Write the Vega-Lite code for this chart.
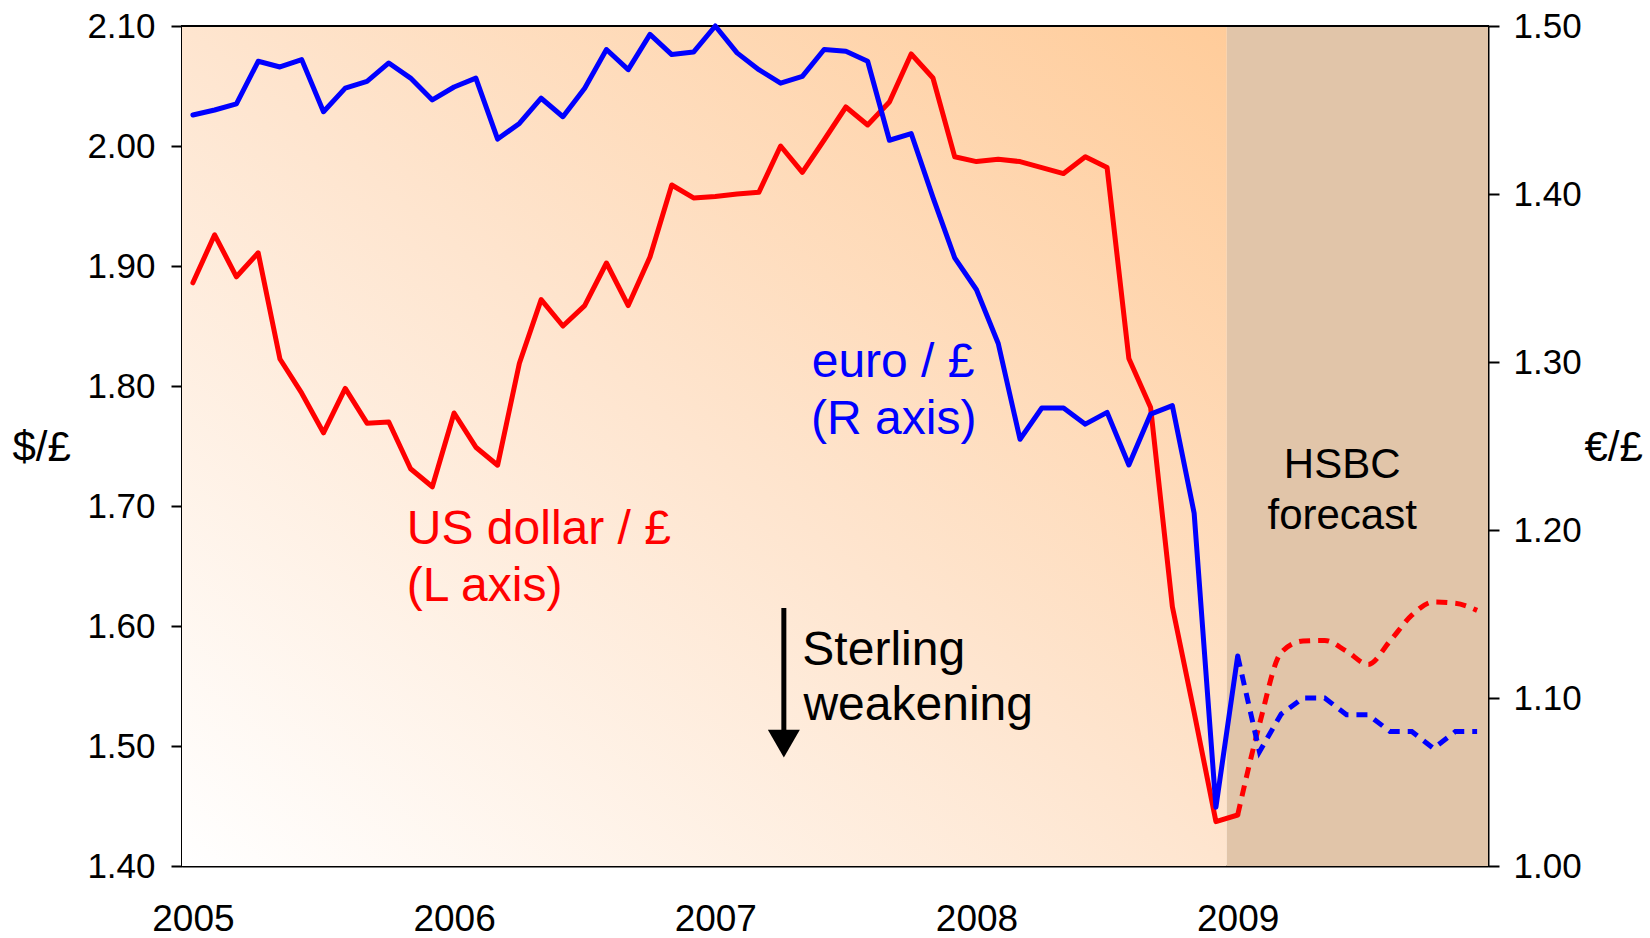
{
  "$schema": "https://vega.github.io/schema/vega-lite/v6.json",
  "width": 1306,
  "height": 840,
  "autosize": {"type": "none"},
  "padding": {"left": 182, "top": 26, "right": 162, "bottom": 72},
  "background": "white",
  "config": {
    "view": {"stroke": "black", "strokeWidth": 2},
    "axis": {"zindex": 1, "grid": false, "domainColor": "black", "domainWidth": 2, "tickColor": "black", "tickWidth": 2, "labelColor": "black", "titleColor": "black", "labelFont": "Liberation Sans", "titleFont": "Liberation Sans", "labelFlush": false, "labelOverlap": false, "labelBound": false},
    "text": {"font": "Liberation Sans"}
  },
  "datasets": {
    "actual": [
      {"t": 0, "usd": 1.886, "eur": 1.447},
      {"t": 1, "usd": 1.926, "eur": 1.450},
      {"t": 2, "usd": 1.891, "eur": 1.4536},
      {"t": 3, "usd": 1.911, "eur": 1.479},
      {"t": 4, "usd": 1.8225, "eur": 1.4756},
      {"t": 5, "usd": 1.794, "eur": 1.480},
      {"t": 6, "usd": 1.761, "eur": 1.449},
      {"t": 7, "usd": 1.798, "eur": 1.463},
      {"t": 8, "usd": 1.769, "eur": 1.467},
      {"t": 9, "usd": 1.770, "eur": 1.478},
      {"t": 10, "usd": 1.731, "eur": 1.469},
      {"t": 11, "usd": 1.716, "eur": 1.456},
      {"t": 12, "usd": 1.7775, "eur": 1.4637},
      {"t": 13, "usd": 1.749, "eur": 1.469},
      {"t": 14, "usd": 1.734, "eur": 1.4327},
      {"t": 15, "usd": 1.819, "eur": 1.442},
      {"t": 16, "usd": 1.872, "eur": 1.457},
      {"t": 17, "usd": 1.850, "eur": 1.446},
      {"t": 18, "usd": 1.867, "eur": 1.463},
      {"t": 19, "usd": 1.9025, "eur": 1.486},
      {"t": 20, "usd": 1.867, "eur": 1.474},
      {"t": 21, "usd": 1.9075, "eur": 1.495},
      {"t": 22, "usd": 1.9675, "eur": 1.483},
      {"t": 23, "usd": 1.9567, "eur": 1.4845},
      {"t": 24, "usd": 1.958, "eur": 1.500},
      {"t": 25, "usd": 1.960, "eur": 1.484},
      {"t": 26, "usd": 1.9614, "eur": 1.474},
      {"t": 27, "usd": 2.000, "eur": 1.466},
      {"t": 28, "usd": 1.978, "eur": 1.470},
      {"t": 29, "usd": 2.005, "eur": 1.486},
      {"t": 30, "usd": 2.0325, "eur": 1.485},
      {"t": 31, "usd": 2.0175, "eur": 1.479},
      {"t": 32, "usd": 2.0367, "eur": 1.432},
      {"t": 33, "usd": 2.0767, "eur": 1.436},
      {"t": 34, "usd": 2.0567, "eur": 1.398},
      {"t": 35, "usd": 1.991, "eur": 1.362},
      {"t": 36, "usd": 1.987, "eur": 1.343},
      {"t": 37, "usd": 1.989, "eur": 1.311},
      {"t": 38, "usd": 1.987, "eur": 1.254},
      {"t": 39, "usd": 1.982, "eur": 1.2726},
      {"t": 40, "usd": 1.977, "eur": 1.2726},
      {"t": 41, "usd": 1.991, "eur": 1.263},
      {"t": 42, "usd": 1.982, "eur": 1.270},
      {"t": 43, "usd": 1.823, "eur": 1.2387},
      {"t": 44, "usd": 1.782, "eur": 1.269},
      {"t": 45, "usd": 1.616, "eur": 1.274},
      {"t": 46, "usd": 1.528, "eur": 1.210},
      {"t": 47, "usd": 1.437, "eur": 1.035},
      {"t": 48, "usd": 1.4425, "eur": 1.125}
    ],
    "forecast": [
      {"t": 48, "usd": 1.4425, "eur": 1.125},
      {"t": 49, "usd": 1.518, "eur": 1.068},
      {"t": 50, "usd": 1.578, "eur": 1.0905},
      {"t": 51, "usd": 1.5875, "eur": 1.10},
      {"t": 52, "usd": 1.588, "eur": 1.10},
      {"t": 53, "usd": 1.579, "eur": 1.09},
      {"t": 54, "usd": 1.568, "eur": 1.09},
      {"t": 55, "usd": 1.5875, "eur": 1.08},
      {"t": 56, "usd": 1.609, "eur": 1.08},
      {"t": 57, "usd": 1.620, "eur": 1.07},
      {"t": 58, "usd": 1.619, "eur": 1.08},
      {"t": 59, "usd": 1.613, "eur": 1.08}
    ],
    "redText": [
      {"label": "US dollar / £", "t": 9.83, "v": 1.6683},
      {"label": "(L axis)", "t": 9.83, "v": 1.6208}
    ],
    "blueText": [
      {"label": "euro / £", "t": 28.43, "v": 1.8075},
      {"label": "(R axis)", "t": 28.4, "v": 1.76}
    ],
    "sterlingText": [
      {"label": "Sterling", "t": 28.0, "v": 1.5675},
      {"label": "weakening", "t": 28.05, "v": 1.5217}
    ],
    "hsbcText": [
      {"label": "HSBC", "t": 52.8, "v": 1.7233},
      {"label": "forecast", "t": 52.8, "v": 1.6808}
    ],
    "arrow": [
      {"t": 27.15, "v": 1.615, "v2": 1.509, "head": 1.502}
    ],
    "regions": [
      {"region": "history", "start": -0.5, "end": 47.5},
      {"region": "forecast", "start": 47.5, "end": 59.5}
    ]
  },
  "layer": [
    {
      "layer": [
        {
          "data": {"name": "regions"},
          "transform": [{"filter": "datum.region == 'history'"}],
          "mark": {"type": "rect", "opacity": 1, "fill": {"gradient": "linear", "x1": 0, "y1": 1, "x2": 1, "y2": 0, "stops": [{"offset": 0, "color": "#ffffff"}, {"offset": 0.5, "color": "#fee5cf"}, {"offset": 1, "color": "#ffcc9a"}]}},
          "encoding": {
            "x": {"field": "start", "type": "quantitative", "scale": {"domain": [-0.5, 59.5], "nice": false, "zero": false}},
            "x2": {"field": "end"}
          }
        },
        {
          "data": {"name": "regions"},
          "transform": [{"filter": "datum.region == 'forecast'"}],
          "mark": {"type": "rect", "opacity": 1, "fill": "#e1c5a9"},
          "encoding": {
            "x": {"field": "start", "type": "quantitative", "scale": {"domain": [-0.5, 59.5], "nice": false, "zero": false}},
            "x2": {"field": "end"}
          }
        },
        {
          "data": {"values": [{}]},
          "mark": {"type": "rule", "color": "black", "strokeWidth": 2},
          "encoding": {
            "y": {"datum": 2.1, "type": "quantitative", "scale": {"domain": [1.4, 2.1], "nice": false, "zero": false}}
          }
        },
        {
          "data": {"name": "actual"},
          "mark": {"type": "line", "color": "#ff0000", "strokeWidth": 5, "strokeJoin": "round", "strokeCap": "round"},
          "encoding": {
            "x": {"field": "t", "type": "quantitative", "scale": {"domain": [-0.5, 59.5], "nice": false, "zero": false},
              "axis": {"values": [0, 12, 24, 36, 48], "labelExpr": "'' + (2005 + datum.value / 12)", "ticks": false, "tickSize": 0, "labelPadding": 35, "labelFontSize": 37, "labelBaseline": "top", "labelAlign": "center", "title": null}},
            "y": {"field": "usd", "type": "quantitative", "scale": {"domain": [1.4, 2.1], "nice": false, "zero": false},
              "axis": {"orient": "left", "values": [1.4, 1.5, 1.6, 1.7, 1.8, 1.9, 2.0, 2.1], "format": ".2f", "tickSize": 11, "labelPadding": 16, "labelFontSize": 35, "title": "$/£", "titleAngle": 0, "titleFontSize": 42, "titleFontWeight": "normal", "titleAlign": "left", "titleBaseline": "middle", "titleX": -170, "titleY": 421}}
          }
        },
        {
          "data": {"name": "forecast"},
          "mark": {"type": "line", "color": "#ff0000", "strokeWidth": 5, "strokeDash": [11, 8], "strokeCap": "butt", "interpolate": "monotone"},
          "encoding": {
            "x": {"field": "t", "type": "quantitative", "scale": {"domain": [-0.5, 59.5], "nice": false, "zero": false}},
            "y": {"field": "usd", "type": "quantitative", "scale": {"domain": [1.4, 2.1], "nice": false, "zero": false}}
          }
        },
        {
          "data": {"name": "redText"},
          "mark": {"type": "text", "color": "#ff0000", "fontSize": 48, "align": "left", "baseline": "alphabetic"},
          "encoding": {
            "x": {"field": "t", "type": "quantitative", "scale": {"domain": [-0.5, 59.5], "nice": false, "zero": false}},
            "y": {"field": "v", "type": "quantitative", "scale": {"domain": [1.4, 2.1], "nice": false, "zero": false}},
            "text": {"field": "label"}
          }
        },
        {
          "data": {"name": "blueText"},
          "mark": {"type": "text", "color": "#0000ff", "fontSize": 48, "align": "left", "baseline": "alphabetic"},
          "encoding": {
            "x": {"field": "t", "type": "quantitative", "scale": {"domain": [-0.5, 59.5], "nice": false, "zero": false}},
            "y": {"field": "v", "type": "quantitative", "scale": {"domain": [1.4, 2.1], "nice": false, "zero": false}},
            "text": {"field": "label"}
          }
        },
        {
          "data": {"name": "sterlingText"},
          "mark": {"type": "text", "color": "black", "fontSize": 48, "align": "left", "baseline": "alphabetic"},
          "encoding": {
            "x": {"field": "t", "type": "quantitative", "scale": {"domain": [-0.5, 59.5], "nice": false, "zero": false}},
            "y": {"field": "v", "type": "quantitative", "scale": {"domain": [1.4, 2.1], "nice": false, "zero": false}},
            "text": {"field": "label"}
          }
        },
        {
          "data": {"name": "hsbcText"},
          "mark": {"type": "text", "color": "black", "fontSize": 42, "align": "center", "baseline": "alphabetic"},
          "encoding": {
            "x": {"field": "t", "type": "quantitative", "scale": {"domain": [-0.5, 59.5], "nice": false, "zero": false}},
            "y": {"field": "v", "type": "quantitative", "scale": {"domain": [1.4, 2.1], "nice": false, "zero": false}},
            "text": {"field": "label"}
          }
        },
        {
          "data": {"name": "arrow"},
          "mark": {"type": "rule", "color": "black", "strokeWidth": 5},
          "encoding": {
            "x": {"field": "t", "type": "quantitative", "scale": {"domain": [-0.5, 59.5], "nice": false, "zero": false}},
            "y": {"field": "v", "type": "quantitative", "scale": {"domain": [1.4, 2.1], "nice": false, "zero": false}},
            "y2": {"field": "v2"}
          }
        },
        {
          "data": {"name": "arrow"},
          "mark": {"type": "point", "shape": "triangle-down", "filled": true, "color": "black", "opacity": 1, "size": 1024, "strokeWidth": 0},
          "encoding": {
            "x": {"field": "t", "type": "quantitative", "scale": {"domain": [-0.5, 59.5], "nice": false, "zero": false}},
            "y": {"field": "head", "type": "quantitative", "scale": {"domain": [1.4, 2.1], "nice": false, "zero": false}}
          }
        }
      ]
    },
    {
      "layer": [
        {
          "data": {"name": "actual"},
          "mark": {"type": "line", "color": "#0000ff", "strokeWidth": 5, "strokeJoin": "round", "strokeCap": "round"},
          "encoding": {
            "x": {"field": "t", "type": "quantitative", "scale": {"domain": [-0.5, 59.5], "nice": false, "zero": false}},
            "y": {"field": "eur", "type": "quantitative", "scale": {"domain": [1.0, 1.5], "nice": false, "zero": false},
              "axis": {"orient": "right", "values": [1.0, 1.1, 1.2, 1.3, 1.4, 1.5], "format": ".2f", "tickSize": 11, "labelPadding": 14, "labelFontSize": 35, "title": "€/£", "titleAngle": 0, "titleFontSize": 42, "titleFontWeight": "normal", "titleAlign": "left", "titleBaseline": "middle", "titleX": 96, "titleY": 421}}
          }
        },
        {
          "data": {"name": "forecast"},
          "mark": {"type": "line", "color": "#0000ff", "strokeWidth": 5, "strokeDash": [11, 8], "strokeCap": "butt"},
          "encoding": {
            "x": {"field": "t", "type": "quantitative", "scale": {"domain": [-0.5, 59.5], "nice": false, "zero": false}},
            "y": {"field": "eur", "type": "quantitative", "scale": {"domain": [1.0, 1.5], "nice": false, "zero": false}}
          }
        }
      ]
    }
  ],
  "resolve": {"scale": {"y": "independent"}}
}
